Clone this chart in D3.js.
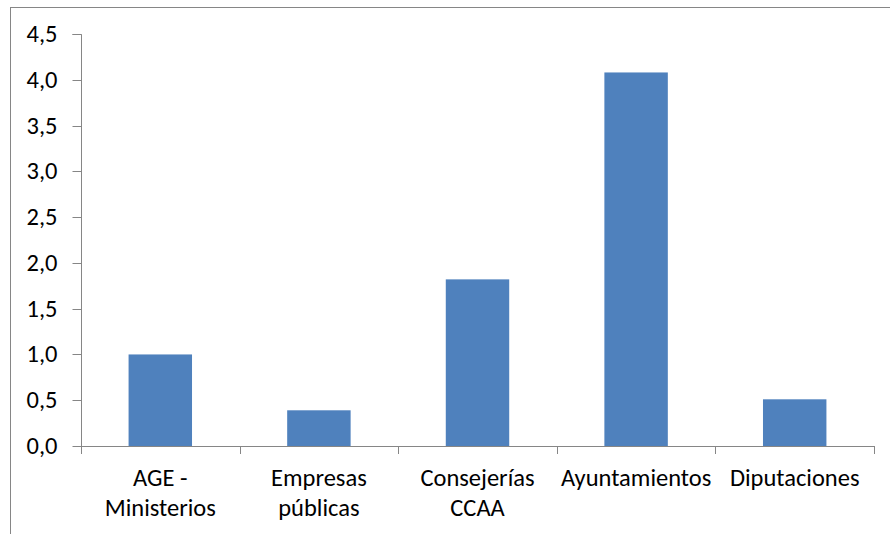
<!DOCTYPE html>
<html><head><meta charset="utf-8">
<script src="https://cdn.jsdelivr.net/npm/d3@7"></script>
<style>body{margin:0;background:#fff;overflow:hidden}svg{display:block}</style>
</head><body>
<script>
const categories = [["AGE -","Ministerios"],["Empresas","públicas"],["Consejerías","CCAA"],["Ayuntamientos"],["Diputaciones"]];
const values = [1.0, 0.39, 1.82, 4.08, 0.51];
const yTicks = [0,0.5,1.0,1.5,2.0,2.5,3.0,3.5,4.0,4.5];

const W=890,H=534;
const svg=d3.select("body").append("svg").attr("width",W).attr("height",H);
svg.append("rect").attr("x",10.5).attr("y",7.5).attr("width",1000).attr("height",1000)
  .attr("fill","none").attr("stroke","#868686").attr("stroke-width",1);

const x0=81,x1=874,yTop=34,yBot=446;
const x=d3.scaleBand().domain(d3.range(categories.length)).range([x0,x1]).paddingInner(0.6).paddingOuter(0.3);
const y=d3.scaleLinear().domain([0,4.5]).range([yBot,yTop]);
const font="Carlito, Calibri, Lato, sans-serif";
const fs=24.5;

svg.selectAll("rect.bar").data(values).join("rect").attr("class","bar")
  .attr("x",(d,i)=>x(i)).attr("width",x.bandwidth())
  .attr("y",d=>y(d)).attr("height",d=>y(0)-y(d)).attr("fill","#4F81BD");

const yAxis=d3.axisLeft(y).tickValues(yTicks).tickSize(9).tickPadding(15)
  .tickFormat(d=>d3.format(".1f")(d).replace(".",","));
const gy=svg.append("g").attr("transform",`translate(${x0+0.5},0)`).call(yAxis);
gy.select(".domain").attr("stroke","#868686").attr("d",`M-9,${yTop+0.5}H0V${yBot+0.5}`);
gy.selectAll(".tick line").attr("stroke","#868686");
gy.selectAll(".tick").attr("transform",d=>`translate(0,${Math.round(y(d))+0.5})`);
gy.selectAll("text").attr("font-family",font).attr("font-size",fs).attr("fill","#000");

// x axis
const step=(x1-x0)/categories.length;
const gx=svg.append("g");
gx.append("line").attr("x1",x0).attr("x2",x1+0.5).attr("y1",yBot+0.5).attr("y2",yBot+0.5).attr("stroke","#868686");
d3.range(categories.length+1).forEach(i=>{
  const xx=Math.round(x0+i*step)+0.5;
  gx.append("line").attr("x1",xx).attr("x2",xx).attr("y1",yBot).attr("y2",yBot+8).attr("stroke","#868686");
});
categories.forEach((lines,i)=>{
  const t=gx.append("text").attr("x",x(i)+x.bandwidth()/2).attr("y",486)
    .attr("text-anchor","middle").attr("font-family",font).attr("font-size",fs).attr("fill","#000");
  lines.forEach((l,j)=>t.append("tspan").attr("x",x(i)+x.bandwidth()/2).attr("dy",j?29.5:0).text(l));
});
</script>
</body></html>
